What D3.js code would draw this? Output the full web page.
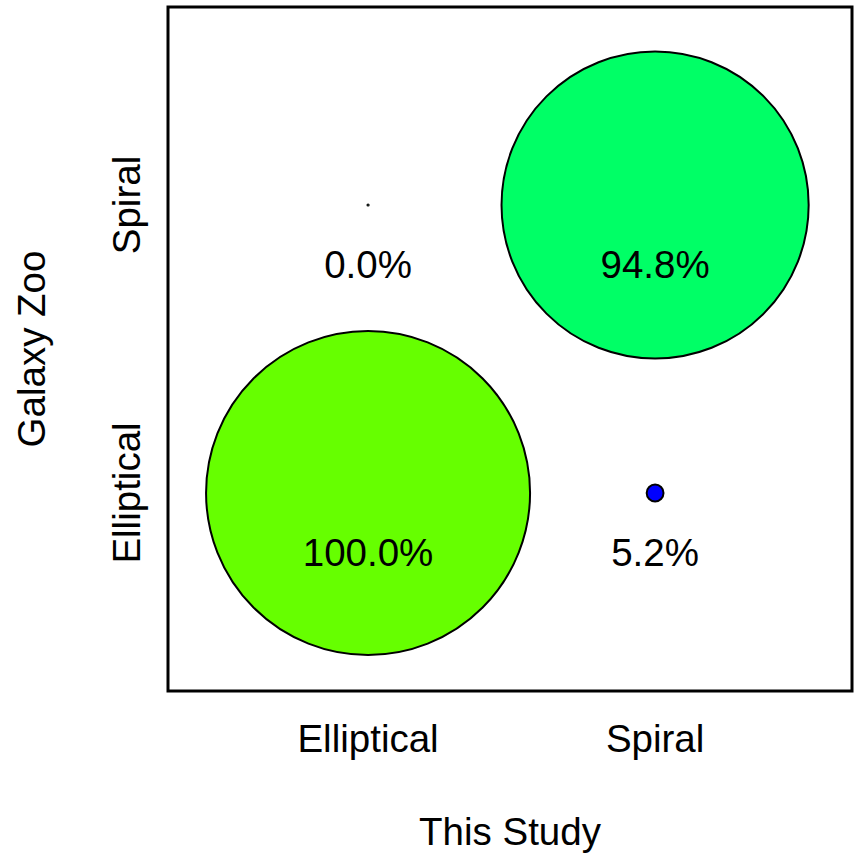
<!DOCTYPE html>
<html>
<head>
<meta charset="utf-8">
<script src="https://cdn.jsdelivr.net/npm/d3@7"></script>
<style>
  html, body { margin: 0; padding: 0; background: #fff; }
  svg { display: block; }
  text { font-family: "Liberation Sans", Arial, Helvetica, sans-serif; fill: #000; }
</style>
</head>
<body>
<svg id="chart" width="856" height="858"></svg>
<script>
// Confusion matrix: classification of this study vs Galaxy Zoo
const classes = ["Elliptical", "Spiral"];
const studyClass = ["Elliptical", "Spiral", "Elliptical", "Spiral"];
const zooClass = ["Elliptical", "Elliptical", "Spiral", "Spiral"];
const percents = [100.0, 5.2, 0.0, 94.8];
const fills = ["#66FF00", "#0000FF", "#00FF66", "#00FF66"];

const svg = d3.select("#chart");
const frame = { left: 168, right: 852, top: 7, bottom: 691 };
const fontSize = 38.5;

const pos = d3.scaleOrdinal().domain(classes).range([1, 2]);
const x = d3.scaleLinear().domain([0.303, 2.686]).range([frame.left, frame.right]);
const y = d3.scaleLinear().domain([0.3125, 2.6875]).range([frame.bottom, frame.top]);
// radius grows linearly with the percentage
const r = d3.scaleLinear().domain([0, 100]).range([0, 162]);

const cells = percents.map((p, i) => ({
  sx: studyClass[i], gz: zooClass[i], p, fill: fills[i]
}));

// circles (an empty cell still shows as a point)
svg.append("g").selectAll("circle")
  .data(cells)
  .join("circle")
  .attr("cx", d => x(pos(d.sx)))
  .attr("cy", d => y(pos(d.gz)))
  .attr("r", d => Math.max(r(d.p), 0.6))
  .attr("fill", d => d.fill)
  .attr("stroke", "#000")
  .attr("stroke-width", 2);

// percentage labels
svg.append("g").selectAll("text")
  .data(cells)
  .join("text")
  .attr("x", d => x(pos(d.sx)))
  .attr("y", d => y(pos(d.gz)) + 73)
  .attr("text-anchor", "middle")
  .attr("font-size", fontSize)
  .text(d => d.p.toFixed(1) + "%");

// frame
svg.append("rect")
  .attr("x", frame.left)
  .attr("y", frame.top)
  .attr("width", frame.right - frame.left)
  .attr("height", frame.bottom - frame.top)
  .attr("fill", "none")
  .attr("stroke", "#000")
  .attr("stroke-width", 3);

// x axis tick labels
svg.append("g").selectAll("text")
  .data(classes)
  .join("text")
  .attr("x", d => x(pos(d)))
  .attr("y", 752)
  .attr("text-anchor", "middle")
  .attr("font-size", fontSize)
  .text(d => d);

// y axis tick labels
svg.append("g").selectAll("text")
  .data(classes)
  .join("text")
  .attr("transform", d => `translate(140,${y(pos(d))}) rotate(-90)`)
  .attr("text-anchor", "middle")
  .attr("font-size", fontSize)
  .text(d => d);

// axis titles
svg.append("text")
  .attr("x", (frame.left + frame.right) / 2)
  .attr("y", 845)
  .attr("text-anchor", "middle")
  .attr("font-size", fontSize)
  .text("This Study");

svg.append("text")
  .attr("transform", `translate(45,${(frame.top + frame.bottom) / 2}) rotate(-90)`)
  .attr("text-anchor", "middle")
  .attr("font-size", fontSize)
  .text("Galaxy Zoo");
</script>
</body>
</html>
